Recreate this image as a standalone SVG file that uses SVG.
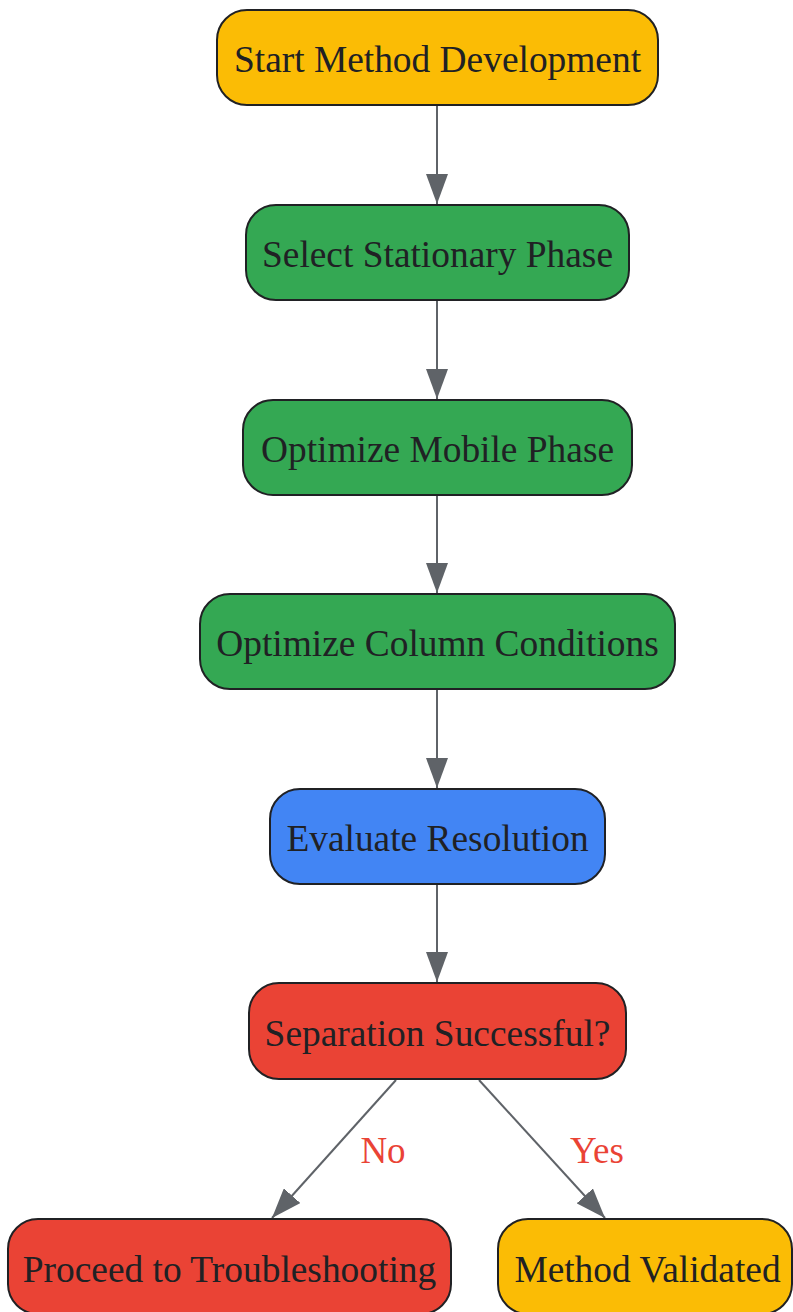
<svg xmlns="http://www.w3.org/2000/svg" width="793" height="1312" viewBox="0 0 793 1312">
<defs>
<style>
.node rect{stroke:#202124;stroke-width:2}
.node text{font-family:"Liberation Serif","Times New Roman",serif;font-size:37.4px;fill:#202124;text-anchor:middle}
.yellow rect{fill:#FBBC05}
.green rect{fill:#34A853}
.blue rect{fill:#4285F4}
.red rect{fill:#EA4335}
.edge{stroke:#5f6368;stroke-width:2;fill:none;marker-end:url(#arrow)}
.label{font-family:"Liberation Serif","Times New Roman",serif;font-size:37px;fill:#EA4335;text-anchor:middle}
</style>
<marker id="arrow" markerUnits="userSpaceOnUse" markerWidth="30" markerHeight="22" refX="30" refY="11" orient="auto">
<path d="M0,0 L30,11 L0,22 z" fill="#5f6368"/>
</marker>
</defs>
<rect width="793" height="1312" fill="#ffffff"/>
<g id="connectors">
<line class="edge" x1="437" y1="105" x2="437" y2="204"/>
<line class="edge" x1="437" y1="300" x2="437" y2="399"/>
<line class="edge" x1="437" y1="495" x2="437" y2="593"/>
<line class="edge" x1="437" y1="689" x2="437" y2="788"/>
<line class="edge" x1="437" y1="884" x2="437" y2="982"/>
<line class="edge" x1="396" y1="1080" x2="272" y2="1218"/>
<line class="edge" x1="479" y1="1080" x2="605" y2="1218"/>
<text class="label" x="383" y="1163">No</text>
<text class="label" x="597" y="1163">Yes</text>
</g>
<g id="start" class="node yellow">
<rect x="217" y="10" width="441" height="95" rx="30"/>
<text x="437.5" y="72">Start Method Development</text>
</g>
<g id="stationary" class="node green">
<rect x="246" y="205" width="383" height="95" rx="30"/>
<text x="437.5" y="267">Select Stationary Phase</text>
</g>
<g id="mobile" class="node green">
<rect x="243" y="400" width="389" height="95" rx="30"/>
<text x="437.5" y="462">Optimize Mobile Phase</text>
</g>
<g id="column" class="node green">
<rect x="200" y="594" width="475" height="95" rx="30"/>
<text x="437.5" y="656">Optimize Column Conditions</text>
</g>
<g id="evaluate" class="node blue">
<rect x="270" y="789" width="335" height="95" rx="30"/>
<text x="437.5" y="851">Evaluate Resolution</text>
</g>
<g id="decision" class="node red">
<rect x="249" y="983" width="377" height="96" rx="30"/>
<text x="437.5" y="1046">Separation Successful?</text>
</g>
<g id="troubleshoot" class="node red">
<rect x="8" y="1219" width="443" height="95" rx="30"/>
<text x="229.5" y="1282">Proceed to Troubleshooting</text>
</g>
<g id="validated" class="node yellow">
<rect x="498" y="1219" width="294" height="95" rx="30"/>
<text x="647.5" y="1282">Method Validated</text>
</g>
</svg>
